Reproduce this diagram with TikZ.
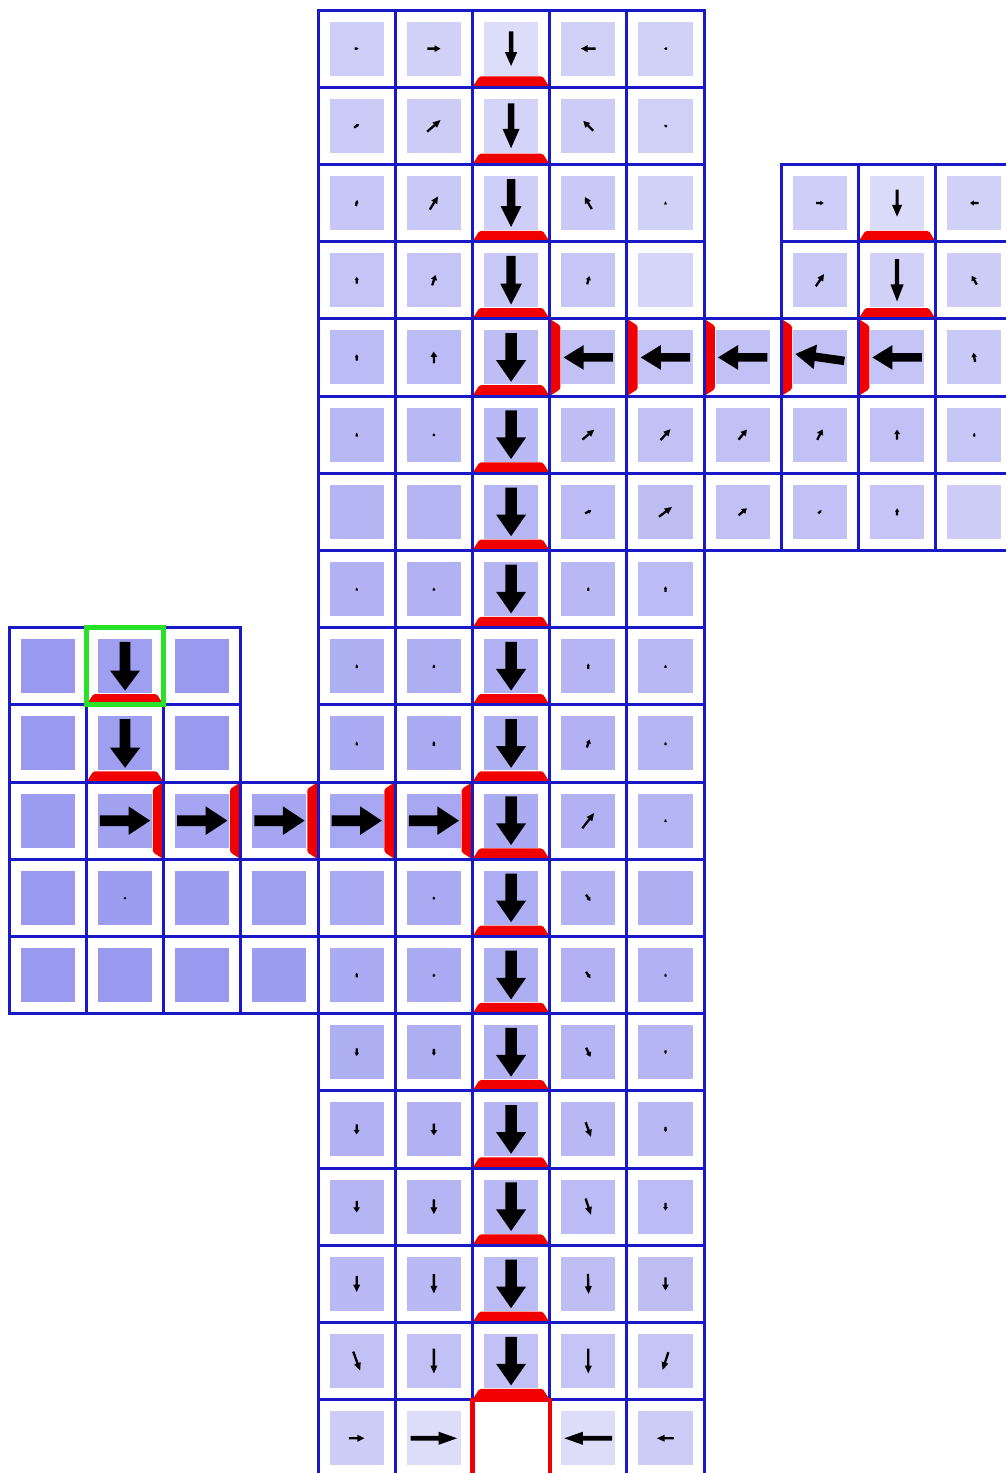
\documentclass[tikz,border=0pt]{standalone}
\usepackage{tikz}
\definecolor{gridblue}{RGB}{25,25,200}
\definecolor{cellbase}{RGB}{100,100,232}
\definecolor{barred}{RGB}{240,0,0}
\definecolor{startgreen}{RGB}{40,225,40}
\tikzset{
  gridline/.style={draw=gridblue,line width=1.1pt},
  arrowfill/.style={fill=black},
  barfill/.style={fill=barred,rounded corners=0.6pt},
  startline/.style={draw=startgreen,line width=1.8pt},
  goalline/.style={draw=barred,line width=1.5pt},
}
% cell arrow: col row angle length shaft headwidth headlength
\newcommand\carrow[7]{%
  \fill[arrowfill,shift={(#1+0.5,-#2-0.5)},rotate=#3]
   ({-(#4)/2},{-(#5)/2}) -- ({(#4)/2-(#7)},{-(#5)/2}) -- ({(#4)/2-(#7)},{-(#6)/2})
   -- ({(#4)/2},0) -- ({(#4)/2-(#7)},{(#6)/2}) -- ({(#4)/2-(#7)},{(#5)/2})
   -- ({-(#4)/2},{(#5)/2}) -- cycle;}
\newcommand\sarr[4]{\carrow{#1}{#2}{#3}{#4}{0.03}{min(0.09,0.6*#4)}{min(0.1,0.45*#4)}}
% red bar on the edge the arrow points to: col row angle
\newcommand\rbar[3]{%
  \fill[barfill,shift={(#1+0.5,-#2-0.5)},rotate=#3]
   (0.5,-0.5) -- (0.5,0.5) -- (0.36,0.41) -- (0.36,-0.41) -- cycle;}
\def\cellsall{%
4/0/32,5/0/30,6/0/22,7/0/30,8/0/30,
4/1/34,5/1/33,6/1/28,7/1/33,8/1/31,
4/2/36,5/2/35,6/2/32,7/2/35,8/2/30,
4/3/38,5/3/38,6/3/35,7/3/37,8/3/27,
4/4/44,5/4/44,6/4/42,7/4/40,8/4/38,
4/5/46,5/5/46,6/5/45,7/5/42,8/5/40,
4/6/48,5/6/48,6/6/47,7/6/44,8/6/42,
4/7/50,5/7/50,6/7/48,7/7/46,8/7/44,
4/8/52,5/8/52,6/8/50,7/8/48,8/8/46,
4/9/54,5/9/54,6/9/52,7/9/50,8/9/48,
4/10/56,5/10/56,6/10/54,7/10/50,8/10/48,
4/11/55,5/11/55,6/11/53,7/11/50,8/11/52,
4/12/54,5/12/54,6/12/52,7/12/50,8/12/50,
4/13/52,5/13/52,6/13/50,7/13/48,8/13/48,
4/14/50,5/14/50,6/14/48,7/14/46,8/14/46,
4/15/48,5/15/48,6/15/46,7/15/44,8/15/44,
4/16/45,5/16/45,6/16/44,7/16/42,8/16/42,
4/17/40,5/17/40,6/17/40,7/17/38,8/17/38,
4/18/33,5/18/22,7/18/22,8/18/33,
10/2/32,11/2/24,12/2/30,10/3/35,11/3/30,12/3/33,
9/4/40,10/4/40,11/4/38,12/4/35,
9/5/40,10/5/40,11/5/40,12/5/36,
9/6/40,10/6/40,11/6/38,12/6/33,
0/8/66,1/8/62,2/8/66,0/9/66,1/9/62,2/9/66,
0/10/64,1/10/60,2/10/58,3/10/58,
0/11/66,1/11/64,2/11/64,3/11/62,
0/12/66,1/12/66,2/12/66,3/12/64}
\begin{document}
\begin{tikzpicture}
\useasboundingbox (-0.12,0.13) rectangle (12.90,-18.95);
\fill[white] (-0.12,0.13) rectangle (12.90,-18.95);
% inner shaded squares
\foreach \c/\r/\p in \cellsall {
  \fill[cellbase!\p!white] (\c+0.15,-\r-0.15) rectangle (\c+0.85,-\r-0.85);
}
% red bars
\foreach \r in {0,...,17} {\rbar{6}{\r}{-90}}
\foreach \c in {7,...,11} {\rbar{\c}{4}{180}}
\rbar{11}{2}{-90}
\rbar{11}{3}{-90}
\rbar{1}{8}{-90}
\rbar{1}{9}{-90}
\foreach \c in {1,...,5} {\rbar{\c}{10}{0}}
% path arrows
\carrow{6}{0}{-90}{0.45}{0.06}{0.16}{0.18}
\carrow{6}{1}{-90}{0.58}{0.085}{0.22}{0.25}
\carrow{6}{2}{-90}{0.62}{0.11}{0.27}{0.27}
\carrow{6}{3}{-90}{0.63}{0.12}{0.28}{0.27}
\foreach \r in {4,...,17} {\carrow{6}{\r}{-90}{0.63}{0.15}{0.39}{0.28}}
\foreach \c/\a in {7/180,8/180,9/180,10/172,11/180} {\carrow{\c}{4}{\a}{0.64}{0.11}{0.32}{0.26}}
\carrow{11}{2}{-90}{0.35}{0.04}{0.13}{0.15}
\carrow{11}{3}{-90}{0.55}{0.055}{0.17}{0.22}
\carrow{1}{8}{-90}{0.63}{0.14}{0.39}{0.26}
\carrow{1}{9}{-90}{0.63}{0.14}{0.39}{0.26}
\foreach \c in {1,...,5} {\carrow{\c}{10}{0}{0.65}{0.14}{0.37}{0.28}}
\carrow{5}{18}{0}{0.6}{0.06}{0.17}{0.24}
\carrow{7}{18}{180}{0.62}{0.06}{0.17}{0.24}
% small field arrows
\foreach \c/\r/\a/\l in {
 4/0/0/0.05,5/0/0/0.17,7/0/180/0.19,8/0/180/0.04,
 4/1/35/0.08,5/1/41/0.23,7/1/135/0.18,8/1/150/0.04,
 4/2/75/0.08,5/2/58/0.2,7/2/120/0.18,8/2/90/0.04,
 4/3/90/0.09,5/3/72/0.14,7/3/75/0.11,
 4/4/90/0.08,5/4/92/0.15,12/4/100/0.12,
 10/2/0/0.1,12/2/180/0.11,10/3/56/0.19,12/3/120/0.13,
 4/5/90/0.05,5/5/90/0.04,7/5/40/0.2,8/5/48/0.19,9/5/50/0.17,10/5/63/0.15,11/5/90/0.13,12/5/90/0.05,
 7/6/25/0.09,8/6/37/0.21,9/6/40/0.14,10/6/45/0.06,11/6/90/0.09,
 4/7/90/0.04,5/7/90/0.04,7/7/90/0.05,8/7/90/0.07,
 4/8/90/0.05,5/8/90/0.05,7/8/90/0.07,8/8/90/0.04,
 4/9/90/0.05,5/9/90/0.06,7/9/70/0.11,8/9/90/0.04,
 7/10/52/0.25,8/10/90/0.04,
 5/11/90/0.04,7/11/-55/0.1,1/11/90/0.03,
 4/12/90/0.06,5/12/90/0.04,7/12/-55/0.1,8/12/90/0.04,
 4/13/-90/0.1,5/13/-90/0.09,7/13/-65/0.13,8/13/-90/0.05,
 4/14/-90/0.13,5/14/-90/0.15,7/14/-70/0.2,8/14/-90/0.07,
 4/15/-90/0.15,5/15/-90/0.19,7/15/-72/0.22,8/15/-90/0.1,
 4/16/-90/0.21,5/16/-90/0.25,7/16/-88/0.26,8/16/-90/0.17,
 4/17/-70/0.26,5/17/-90/0.32,7/17/-90/0.32,8/17/-108/0.24,
 4/18/0/0.2,8/18/180/0.22} {\sarr{\c}{\r}{\a}{\l}}
% grid lines
\foreach \c/\r/\p in \cellsall {
  \draw[gridline] (\c,-\r) rectangle ++(1,-1);
}
\draw[gridline] (6,-18) rectangle ++(1,-1);
% start and goal borders
\draw[startline] (1,-8) rectangle (2,-9);
\draw[goalline] (6,-18) rectangle (7,-19);
\end{tikzpicture}
\end{document}
